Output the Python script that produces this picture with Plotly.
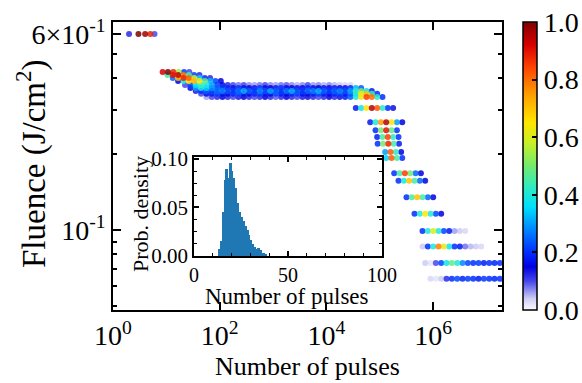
import plotly.graph_objects as go

SERIF = "Liberation Serif, Times New Roman, serif"

# ---------------------------------------------------------------------------
# Data: normalised probability density of the number of pulses to damage,
# one row per fluence level (J/cm^2). Rows are sampled on log10(N) bins.
# ---------------------------------------------------------------------------
LOG_STEP = 0.1  # bin width in log10(number of pulses)

# highest fluence: small integer pulse counts
TOP_FLUENCE = 0.60
TOP_PULSES = [2, 3, 4, 5, 6]
TOP_DENSITY = [0.12, 1.0, 0.97, 0.88, 0.10]

# densities per fluence level (first bin given in ROW_LOG_START)
D_0424 = [0.92, 1.0, 0.88, 0.55, 0.22, 0.10]
D_0412 = [0.45, 0.90, 0.95, 0.78, 0.45, 0.22, 0.12]
D_0401 = [0.25, 0.70, 0.88, 0.82, 0.60, 0.35, 0.20, 0.12]
D_0390 = [0.15, 0.40, 0.66, 0.72, 0.62, 0.48, 0.32, 0.22, 0.15]
D_0376 = [0.10, 0.22, 0.36, 0.42, 0.38, 0.30, 0.22, 0.16, 0.12, 0.10,
          0.08, 0.10, 0.07, 0.06, 0.08, 0.10, 0.07, 0.06, 0.08, 0.09,
          0.07, 0.05, 0.07, 0.10, 0.06, 0.07, 0.05, 0.07, 0.05, 0.04,
          0.03, 0.03]
D_0366 = [0.16, 0.30, 0.38, 0.34, 0.28, 0.24, 0.21, 0.19, 0.17, 0.20,
          0.17, 0.15, 0.18, 0.21, 0.16, 0.15, 0.18, 0.20, 0.16, 0.15,
          0.17, 0.16, 0.19, 0.16, 0.15, 0.17, 0.16, 0.18, 0.16, 0.16,
          0.20, 0.32, 0.24]
D_0356 = [0.13, 0.20, 0.24, 0.22, 0.25, 0.27, 0.23, 0.21, 0.25, 0.31,
          0.24, 0.21, 0.27, 0.23, 0.30, 0.24, 0.21, 0.26, 0.31, 0.23,
          0.21, 0.25, 0.27, 0.31, 0.24, 0.21, 0.24, 0.27, 0.23, 0.30,
          0.42, 0.50, 0.36, 0.18]
D_0347 = [0.10, 0.16, 0.18, 0.21, 0.17, 0.16, 0.19, 0.22, 0.17, 0.16,
          0.19, 0.21, 0.17, 0.16, 0.22, 0.18, 0.16, 0.19, 0.21, 0.17,
          0.16, 0.18, 0.22, 0.18, 0.16, 0.19, 0.21, 0.18, 0.24, 0.40,
          0.62, 0.70, 0.45, 0.20]
D_0337 = [0.06, 0.10, 0.12, 0.15, 0.12, 0.10, 0.13, 0.15, 0.12, 0.10,
          0.12, 0.15, 0.12, 0.09, 0.12, 0.15, 0.12, 0.10, 0.13, 0.14,
          0.12, 0.10, 0.12, 0.15, 0.12, 0.14, 0.18, 0.24, 0.40, 0.62,
          0.85, 0.80, 0.42, 0.20]
D_0305 = [0.18, 0.38, 0.65, 0.95, 0.82, 0.42, 0.20, 0.14]
D_0268 = [0.18, 0.40, 0.75, 0.95, 0.65, 0.30, 0.15]
D_0249 = [0.20, 0.50, 0.90, 0.48, 0.20]
D_0234 = [0.18, 0.45, 0.85, 0.42, 0.20]
D_0220 = [0.20, 0.50, 0.88, 0.45, 0.18]
D_0204 = [0.30, 0.82, 0.42, 0.15]
D_0193 = [0.35, 0.82, 0.45, 0.20]
D_0168 = [0.20, 0.45, 0.85, 0.50, 0.25, 0.15]
D_0157 = [0.20, 0.40, 0.70, 0.45, 0.25, 0.15]
D_0135 = [0.20, 0.45, 0.70, 0.45, 0.25, 0.15]
D_0116 = [0.20, 0.40, 0.65, 0.40, 0.22, 0.15]
D_0099 = [0.20, 0.40, 0.60, 0.40, 0.22, 0.18, 0.06, 0.04, 0.03]
D_0086 = [0.04, 0.20, 0.40, 0.78, 0.62, 0.38, 0.20, 0.18, 0.08, 0.05,
          0.04, 0.03]
D_0074 = [0.04, 0.02, 0.10, 0.22, 0.38, 0.48, 0.40, 0.28, 0.22, 0.20,
          0.21, 0.18, 0.20, 0.19, 0.20]
D_0064 = [0.03, 0.02, 0.04, 0.12, 0.20, 0.22, 0.19, 0.21, 0.20, 0.18,
          0.21, 0.20, 0.19, 0.20]

ROW_FLUENCE = [0.424, 0.412, 0.401, 0.390, 0.376, 0.366, 0.356, 0.347,
               0.337, 0.305, 0.268, 0.249, 0.234, 0.220, 0.204, 0.193,
               0.168, 0.157, 0.135, 0.116, 0.099, 0.086, 0.074, 0.064]
ROW_LOG_START = [0.93, 1.02, 1.12, 1.22, 1.35, 1.45, 1.55, 1.65,
                 1.75, 4.55, 4.82, 4.92, 4.95, 4.96, 5.10, 5.12,
                 5.27, 5.35, 5.50, 5.65, 5.80, 5.80, 5.85, 5.95]
ROW_DENSITY = [D_0424, D_0412, D_0401, D_0390, D_0376, D_0366, D_0356,
               D_0347, D_0337, D_0305, D_0268, D_0249, D_0234, D_0220,
               D_0204, D_0193, D_0168, D_0157, D_0135, D_0116, D_0099,
               D_0086, D_0074, D_0064]

# Inset histogram: pulses to damage at one fluence (bins of width 1)
HIST_FIRST_EDGE = 13
HIST_DENSITY = [0.007, 0.015, 0.045, 0.078, 0.090, 0.080, 0.096, 0.088,
                0.080, 0.070, 0.055, 0.045, 0.040, 0.036, 0.031, 0.027,
                0.022, 0.017, 0.012, 0.009, 0.007, 0.008, 0.006, 0.003,
                0.003, 0.002]

# Axis ticks
X_TICKS = [1, 1e2, 1e4, 1e6]
X_TICKTEXT = ["10<sup>0</sup>", "10<sup>2</sup>", "10<sup>4</sup>", "10<sup>6</sup>"]
Y_TICKS = [0.1, 0.6]
Y_TICKTEXT = ["10<sup>-1</sup>", "6×10<sup>-1</sup>"]
Y_MINOR = [0.05, 0.06, 0.07, 0.08, 0.09, 0.2, 0.3, 0.4, 0.5]
CB_TICKS = [0.0, 0.2, 0.4, 0.6, 0.8, 1.0]

# ---------------------------------------------------------------------------
# Colour map: jet-like, fading to white at zero density
# ---------------------------------------------------------------------------
COLORSCALE = [
    [0.00, "rgb(250,250,255)"],
    [0.04, "rgb(205,205,245)"],
    [0.10, "rgb(70,70,235)"],
    [0.15, "rgb(0,0,225)"],
    [0.20, "rgb(0,45,255)"],
    [0.28, "rgb(0,135,255)"],
    [0.36, "rgb(0,225,250)"],
    [0.43, "rgb(50,235,190)"],
    [0.50, "rgb(115,235,110)"],
    [0.58, "rgb(200,240,40)"],
    [0.65, "rgb(255,230,0)"],
    [0.74, "rgb(255,165,0)"],
    [0.84, "rgb(255,70,0)"],
    [0.92, "rgb(215,0,0)"],
    [1.00, "rgb(128,0,0)"],
]

# ---------------------------------------------------------------------------
# Build the point cloud
# ---------------------------------------------------------------------------
xs, ys, cs = [], [], []
for n, d in zip(TOP_PULSES, TOP_DENSITY):
    xs.append(n)
    ys.append(TOP_FLUENCE)
    cs.append(d)
for f, start, row in zip(ROW_FLUENCE, ROW_LOG_START, ROW_DENSITY):
    for i, d in enumerate(row):
        xs.append(10 ** (start + i * LOG_STEP))
        ys.append(f)
        cs.append(d)

# draw the densest bins last so they sit on top
order = sorted(range(len(cs)), key=lambda k: cs[k])
xs = [xs[k] for k in order]
ys = [ys[k] for k in order]
cs = [cs[k] for k in order]

fig = go.Figure()

fig.add_trace(go.Scatter(
    x=xs, y=ys, mode="markers",
    marker=dict(
        size=6, color=cs, colorscale=COLORSCALE, cmin=0, cmax=1,
        opacity=0.85, line=dict(width=0),
        colorbar=dict(
            x=1.054, xanchor="left", xpad=0, ypad=0,
            y=0.5, yanchor="middle", len=1, lenmode="fraction",
            thickness=14, outlinewidth=1.5, outlinecolor="black",
            tickvals=CB_TICKS, ticktext=[f"{v:.1f}" for v in CB_TICKS],
            ticks="inside", ticklen=5, tickwidth=1.5, tickcolor="black",
            tickfont=dict(family=SERIF, size=28, color="black"),
        ),
    ),
    showlegend=False, hoverinfo="skip",
))

hist_centers = [HIST_FIRST_EDGE + i + 0.5 for i in range(len(HIST_DENSITY))]
fig.add_trace(go.Bar(
    x=hist_centers, y=HIST_DENSITY, width=1,
    marker=dict(color="#1f77b4", line=dict(width=0)),
    xaxis="x2", yaxis="y2", showlegend=False, hoverinfo="skip",
))

axis_common = dict(
    showline=True, linecolor="black", linewidth=1.5, mirror="ticks",
    ticks="inside", tickcolor="black", tickwidth=1.5,
    showgrid=False, zeroline=False,
)

fig.update_layout(
    width=582, height=383,
    margin=dict(l=113, r=80, t=22, b=73, autoexpand=False),
    paper_bgcolor="white", plot_bgcolor="white",
    font=dict(family=SERIF, color="black"),
    bargap=0,
    xaxis=dict(
        type="log", range=[0, 7.29],
        tickvals=X_TICKS, ticktext=X_TICKTEXT, ticklen=8,
        tickfont=dict(size=28), **axis_common,
    ),
    yaxis=dict(
        type="log", range=[-1.3175, -0.1744],
        tickvals=Y_TICKS, ticktext=Y_TICKTEXT, ticklen=8,
        tickfont=dict(size=28),
        minor=dict(tickvals=Y_MINOR, ticks="inside", ticklen=4,
                   tickcolor="black", tickwidth=1.5, showgrid=False),
        **axis_common,
    ),
    xaxis2=dict(
        domain=[0.2082, 0.6915], anchor="y2", range=[0, 100],
        tickvals=[0, 50, 100], ticklen=5,
        minor=dict(dtick=10, ticks="inside", ticklen=3,
                   tickcolor="black", tickwidth=1, showgrid=False),
        tickfont=dict(size=20), **axis_common,
    ),
    yaxis2=dict(
        domain=[0.1875, 0.53125], anchor="x2", range=[0, 0.102],
        tickvals=[0, 0.05, 0.10], ticktext=["0.00", "0.05", "0.10"],
        ticklen=5,
        minor=dict(dtick=0.0125, ticks="inside", ticklen=3,
                   tickcolor="black", tickwidth=1, showgrid=False),
        tickfont=dict(size=21), **axis_common,
    ),
    annotations=[
        dict(text="Number of pulses", xref="paper", yref="paper",
             x=0.5, y=-0.195, xanchor="center", yanchor="middle",
             showarrow=False, font=dict(size=26)),
        dict(text="Fluence (J/cm<sup>2</sup>)", xref="paper", yref="paper",
             x=-0.211, y=0.51, xanchor="center", yanchor="middle",
             textangle=-90, showarrow=False, font=dict(size=33)),
        dict(text="Number of pulses", xref="paper", yref="paper",
             x=0.447, y=0.046, xanchor="center", yanchor="middle",
             showarrow=False, font=dict(size=23)),
        dict(text="Prob. density", xref="paper", yref="paper",
             x=0.0694, y=0.333, xanchor="center", yanchor="middle",
             textangle=-90, showarrow=False, font=dict(size=22)),
    ],
)

fig.write_html("out.html")
